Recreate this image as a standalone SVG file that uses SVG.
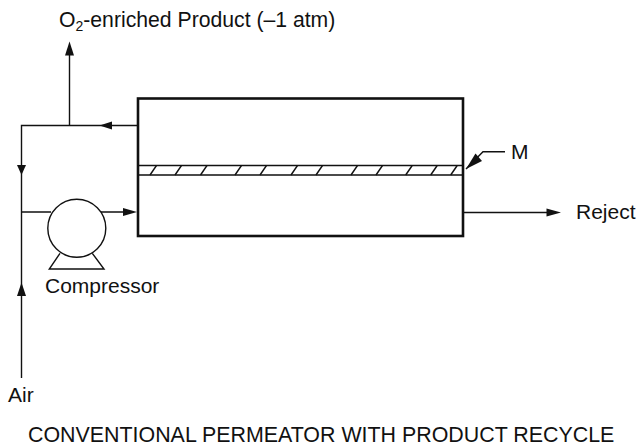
<svg xmlns="http://www.w3.org/2000/svg" width="637" height="448" viewBox="0 0 637 448">
<style>
text{font-family:"Liberation Sans",Arial,sans-serif;font-size:21px;fill:#111}
.l{fill:none;stroke:#111;stroke-width:1.4}
.a{fill:#111;stroke:none}
</style>
<defs><path id="h" class="l" d="M0 175L6.500 165.500"/></defs>
<rect width="637" height="448" fill="#fff"/>
<g id="connectors">
<path class="l" d="M138 125.500H21.500V378M69.500 125.500V50M21.500 212H51M101 212H130M463 212.500H550M466 169L483 151.700H505"/>
<path class="a" d="M69.500 41.500L74 55.500H65Z"/>
<path class="a" d="M99.500 125.500L112 121.500V129.500Z"/>
<path class="a" d="M21.500 175L17 165H26Z"/>
<path class="a" d="M21.500 282.500L26 296H17Z"/>
<path class="a" d="M137 212L123 208V216Z"/>
<path class="a" d="M561 212.500L546.500 208.500V216.500Z"/>
<path class="a" d="M466 169L475.500 153.500L482 161Z"/>
</g>
<g id="permeator">
<rect x="138" y="98.500" width="325" height="137.500" fill="none" stroke="#111" stroke-width="2.600"/>
<path class="l" d="M138 165.500H463M138 175H463"/>
<use href="#h" x="150"/><use href="#h" x="175"/><use href="#h" x="200.500"/><use href="#h" x="235"/><use href="#h" x="260"/><use href="#h" x="291"/><use href="#h" x="316"/><use href="#h" x="351"/><use href="#h" x="376"/><use href="#h" x="405.700"/><use href="#h" x="430.700"/><use href="#h" x="450.700"/>
</g>
<g id="compressor">
<circle cx="76.800" cy="228.300" r="29" fill="#fff" stroke="#111" stroke-width="1.400"/>
<path class="l" d="M60 253.300L49.300 269H104L92.300 253.300"/>
</g>
<text x="59" y="27" style="font-size:21.200px">O<tspan font-size="14" dy="4">2</tspan><tspan dy="-4">-enriched Product (–1 atm)</tspan></text>
<text x="45" y="293">Compressor</text>
<text x="511" y="159">M</text>
<text x="576" y="219">Reject</text>
<text x="8" y="402">Air</text>
<text x="28" y="441.500" style="font-size:21.400px">CONVENTIONAL PERMEATOR WITH PRODUCT RECYCLE</text>
</svg>
